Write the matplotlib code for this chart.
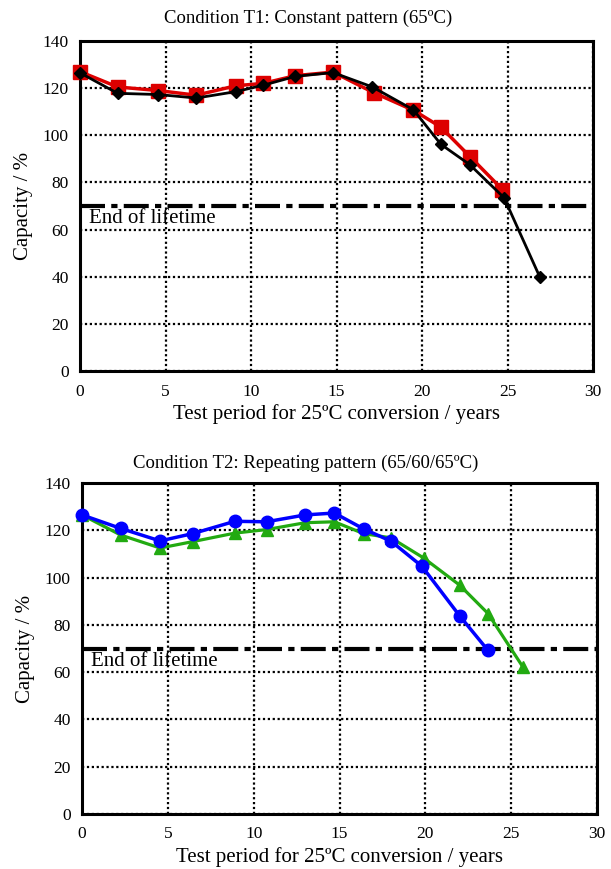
import matplotlib
matplotlib.use("Agg")
import matplotlib.pyplot as plt

plt.rcParams['font.family'] = ['Liberation Serif', 'DejaVu Serif']

# T1 data
t1_red_x = [0, 2.2, 4.55, 6.8, 9.1, 10.7, 12.6, 14.8, 17.2, 19.5, 21.1, 22.8, 24.7]
t1_red_y = [127, 120.5, 119, 117, 121, 122, 125.3, 126.8, 118, 110.6, 103.5, 91, 77]
t1_blk_x = [0, 2.2, 4.55, 6.8, 9.1, 10.7, 12.6, 14.8, 17.1, 19.5, 21.1, 22.8, 24.8, 26.9]
t1_blk_y = [126.5, 117.8, 117.3, 115.8, 118.5, 121.2, 125, 126.6, 120.5, 110.8, 96.2, 87.5, 73.5, 39.7]

# T2 data
t2_blue_x = [0, 2.25, 4.55, 6.45, 8.9, 10.75, 13.0, 14.7, 16.4, 18.0, 19.8, 22.0, 23.65]
t2_blue_y = [126.5, 120.8, 115.5, 118.6, 123.8, 123.6, 126.5, 127.3, 120.6, 115.4, 104.8, 83.8, 69.2]
t2_grn_x = [0, 2.25, 4.55, 6.45, 8.9, 10.75, 13.0, 14.7, 16.4, 18.0, 19.9, 22.0, 23.65, 25.7]
t2_grn_y = [126.5, 118.0, 112.5, 115.2, 118.8, 120.3, 123.2, 123.6, 118.6, 116.8, 108.3, 96.8, 84.8, 62.0]

eol = 70
xticks = [0, 5, 10, 15, 20, 25, 30]
yticks = [0, 20, 40, 60, 80, 100, 120, 140]

fig = plt.figure(figsize=(6.11, 8.69), dpi=100)
ax1 = fig.add_axes([80/611, 1-371/869, (593-80)/611, (371-41)/869])
ax2 = fig.add_axes([82/611, 1-814/869, (597-82)/611, (814-483)/869])

def style(ax):
    ax.set_xlim(0, 30)
    ax.set_ylim(0, 140)
    ax.set_xticks(xticks)
    ax.set_yticks(yticks)
    ax.tick_params(length=0, labelsize=12.5)
    ax.tick_params(axis='x', pad=9)
    ax.tick_params(axis='y', pad=8)
    ax.grid(True, color='black', linestyle=(0, (1, 1.2)), linewidth=1.6)
    for s in ax.spines.values():
        s.set_linewidth(2.2)
    ax.axhline(eol, color='black', linewidth=3, linestyle=(0, (6, 1.5, 1.5, 1.5)), zorder=2)
    ax.text(0.55, 64.5, 'End of lifetime', fontsize=15, va='center', ha='left', zorder=1)
    ax.set_ylabel('Capacity / %', fontsize=15, labelpad=7)
    ax.set_xlabel('Test period for 25ºC conversion / years', fontsize=15, labelpad=3)
    ax.set_axisbelow(True)

style(ax1)
style(ax2)

ax1.plot(t1_red_x, t1_red_y, color='#dd0000', linewidth=2.5, marker='s', markersize=9.5, zorder=3, clip_on=False)
ax1.plot(t1_blk_x, t1_blk_y, color='black', linewidth=2, marker='D', markersize=6, zorder=4, clip_on=False)

ax2.plot(t2_grn_x, t2_grn_y, color='#22aa11', linewidth=2.3, marker='^', markersize=9, zorder=3, clip_on=False)
ax2.plot(t2_blue_x, t2_blue_y, color='#0000ff', linewidth=2.5, marker='o', markersize=9, zorder=4, clip_on=False)

fig.text(0.504, 1-18/869, 'Condition T1: Constant pattern (65ºC)', fontsize=13.5, ha='center', va='center')
fig.text(0.5, 1-463/869, 'Condition T2: Repeating pattern (65/60/65ºC)', fontsize=13.5, ha='center', va='center')

fig.savefig('out.png', dpi=100)
